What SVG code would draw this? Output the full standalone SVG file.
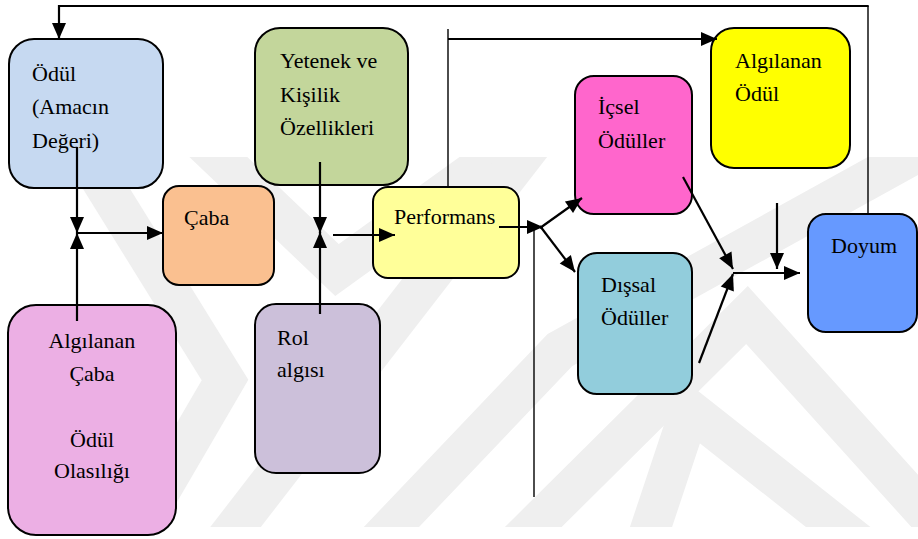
<svg xmlns="http://www.w3.org/2000/svg" width="918" height="539" viewBox="0 0 918 539">
  <defs>
    <style>
      .box { stroke: #000; stroke-width: 2; }
      .lbl { font-family: "Liberation Serif", Tinos, "Times New Roman", "DejaVu Serif", serif; font-size: 22px; fill: #000; }
      .c { fill: none; stroke: #000; stroke-width: 2.2; }
      .thin { fill: none; stroke: #000; stroke-width: 1.4; }
      .a { marker-end: url(#arr); }
      .wm { fill: none; stroke: #efefef; stroke-width: 40; stroke-linejoin: miter; }
    </style>
    <marker id="arr" markerUnits="userSpaceOnUse" markerWidth="17" markerHeight="14" refX="16" refY="7" orient="auto" overflow="visible">
      <path d="M0,0 L16,7 L0,14 Z" fill="#000"/>
    </marker>
    <clipPath id="wmclip">
      <rect x="0" y="157" width="918" height="370"/>
    </clipPath>
  </defs>

  <rect x="0" y="0" width="918" height="539" fill="#fff"/>

  <g id="watermark" clip-path="url(#wmclip)">
    <polyline class="wm" points="70,130 225,380 120,560"/>
    <polyline class="wm" points="190,130 337,270 545,120"/>
    <polyline class="wm" points="210,560 535,140"/>
    <polyline class="wm" points="360,560 560,350 940,140"/>
    <polyline class="wm" points="500,560 747,315 950,540"/>
    <polyline class="wm" points="640,560 690,410 880,560"/>
  </g>

  <g id="odul">
    <rect class="box" x="9" y="39" width="154" height="149" rx="25" fill="#C6D9F1"/>
    <text class="lbl" x="32" y="81">Ödül</text>
    <text class="lbl" x="32" y="114">(Amacın</text>
    <text class="lbl" x="32" y="148">Değeri)</text>
  </g>
  <g id="caba">
    <rect class="box" x="163" y="186" width="111" height="99" rx="16" fill="#FAC090"/>
    <text class="lbl" x="184" y="225">Çaba</text>
  </g>
  <g id="yetenek">
    <rect class="box" x="255" y="28" width="153" height="157" rx="25" fill="#C3D69B"/>
    <text class="lbl" x="280" y="68">Yetenek ve</text>
    <text class="lbl" x="280" y="102">Kişilik</text>
    <text class="lbl" x="280" y="135">Özellikleri</text>
  </g>
  <g id="performans">
    <rect class="box" x="373" y="187" width="146" height="91" rx="15" fill="#FFFF99"/>
    <text class="lbl" x="394" y="224">Performans</text>
  </g>
  <g id="algilanan-caba">
    <rect class="box" x="8" y="305" width="168" height="230" rx="28" fill="#ECAFE4"/>
    <text class="lbl" x="92" y="348" text-anchor="middle">Algılanan</text>
    <text class="lbl" x="92" y="381" text-anchor="middle">Çaba</text>
    <text class="lbl" x="92" y="447" text-anchor="middle">Ödül</text>
    <text class="lbl" x="92" y="478" text-anchor="middle">Olasılığı</text>
  </g>
  <g id="rol">
    <rect class="box" x="255" y="304" width="125" height="169" rx="21" fill="#CCC0DA"/>
    <text class="lbl" x="277" y="345">Rol</text>
    <text class="lbl" x="277" y="377">algısı</text>
  </g>
  <g id="icsel">
    <rect class="box" x="575" y="76" width="117" height="138" rx="19" fill="#FF66CC"/>
    <text class="lbl" x="598" y="114">İçsel</text>
    <text class="lbl" x="598" y="148">Ödüller</text>
  </g>
  <g id="algilanan-odul">
    <rect class="box" x="711" y="28" width="139" height="140" rx="23" fill="#FFFF00"/>
    <text class="lbl" x="735" y="68">Algılanan</text>
    <text class="lbl" x="735" y="101">Ödül</text>
  </g>
  <g id="dissal">
    <rect class="box" x="578" y="253" width="114" height="141" rx="19" fill="#92CDDC"/>
    <text class="lbl" x="601" y="292">Dışsal</text>
    <text class="lbl" x="601" y="325">Ödüller</text>
  </g>
  <g id="doyum">
    <rect class="box" x="808" y="214" width="109" height="118" rx="18" fill="#6699FF"/>
    <text class="lbl" x="831" y="253">Doyum</text>
  </g>

  <g id="connectors">
    <path class="thin" d="M868,214 V6"/>
    <path class="c a" d="M868.7,6 H59 V39"/>
    <path class="c a" d="M77,147 V233"/>
    <path class="c a" d="M77,321 V233"/>
    <path class="c a" d="M77,233 H163"/>
    <path class="c a" d="M320,162 V233"/>
    <path class="c a" d="M320,314 V232"/>
    <path class="c a" d="M333,235 H395"/>
    <path class="thin" d="M448,186 V29"/>
    <path class="c a" d="M448,39 H717"/>
    <path class="c a" d="M499,227 H543"/>
    <path class="thin" d="M534,227 V497"/>
    <path class="c a" d="M540,228 L582,198"/>
    <path class="c a" d="M540,226 L575,272"/>
    <path class="c a" d="M683,177 L733,269"/>
    <path class="c a" d="M699,363 L733,274"/>
    <path class="c a" d="M733,273 H800"/>
    <path class="c a" d="M777,203 V269"/>
  </g>
</svg>
